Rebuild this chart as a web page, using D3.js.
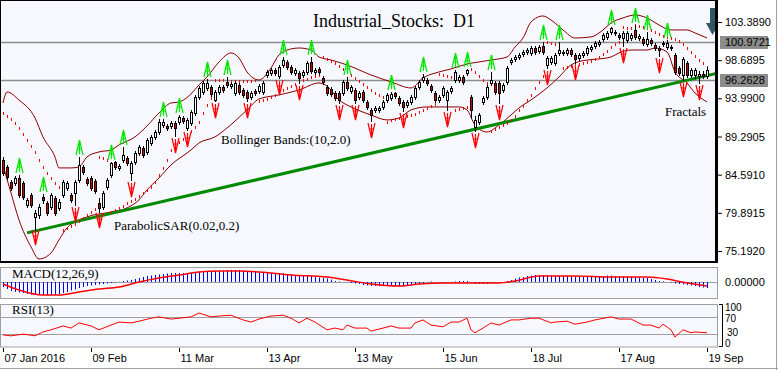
<!DOCTYPE html>
<html>
<head>
<meta charset="utf-8">
<script src="https://cdn.jsdelivr.net/npm/d3@7"></script>
<style>
body{margin:0;background:#fff}
svg{display:block}
text{font-family:"Liberation Sans",Arial,sans-serif;font-size:11px;fill:#000}
.serif{font-family:"Liberation Serif","Times New Roman",serif}
</style>
</head>
<body>
<script>
// daily candles, [open, high, low, close]
var ohlc = [
[86.40,86.77,84.56,84.80],[85.54,85.79,84.06,84.31],[83.70,83.94,82.71,82.96],[83.57,84.43,83.33,84.19],
[84.19,84.56,81.85,82.10],[83.57,83.82,81.60,81.85],[80.86,81.73,80.62,81.48],[82.10,82.34,80.62,80.86],
[79.39,80.25,77.79,79.88],[79.63,80.99,79.26,80.62],[81.85,82.22,81.11,81.48],[81.11,81.36,79.63,79.88],
[80.62,82.34,80.37,82.10],[81.73,81.97,79.63,79.88],[80.50,81.60,80.25,81.23],[82.10,83.94,81.85,83.70],
[82.96,83.82,82.71,83.57],[82.10,82.34,81.23,81.48],[82.34,83.94,80.86,83.70],[83.94,86.77,83.70,85.79],
[85.54,85.79,84.68,84.93],[84.06,84.31,83.33,83.57],[84.19,84.43,82.71,82.96],[83.82,84.06,82.34,82.59],
[81.11,81.73,80.00,80.50],[80.62,82.59,80.37,82.34],[83.08,84.19,82.83,83.94],[84.56,86.16,84.31,86.03],
[86.16,86.28,85.30,85.54],[85.42,85.91,85.17,85.67],[86.40,88.00,86.16,87.02],[86.65,86.90,85.79,86.03],
[84.80,86.28,83.94,86.03],[86.16,87.51,85.91,87.27],[87.27,88.25,87.02,88.00],[87.88,88.13,86.77,87.02],
[87.39,89.11,87.14,88.87],[88.50,89.48,88.25,89.24],[89.24,90.10,88.99,89.85],[89.85,91.45,89.60,91.08],
[90.71,91.45,90.47,91.08],[90.59,90.84,90.10,90.34],[90.59,91.20,90.34,90.96],[90.96,91.20,89.36,90.34],
[91.08,91.94,90.84,91.70],[91.57,91.82,90.96,91.20],[90.34,91.57,90.10,91.33],[90.96,92.56,90.71,92.31],
[92.19,94.41,91.94,94.16],[94.16,95.51,93.91,95.27],[94.77,96.13,94.53,95.88],[95.27,96.37,95.02,95.88],
[95.39,95.64,94.28,94.53],[93.79,95.02,93.67,94.77],[94.77,95.64,94.53,95.39],[95.39,95.64,94.77,95.02],
[96.01,96.62,95.39,95.64],[95.51,96.01,95.27,95.76],[94.65,96.13,94.41,95.88],[95.64,95.88,94.53,94.77],
[95.02,95.27,94.16,94.41],[94.77,95.02,93.67,94.04],[94.16,94.90,93.91,94.65],[94.90,95.14,94.41,94.65],
[94.90,95.76,94.65,95.51],[94.77,96.13,94.53,95.88],[96.87,97.48,96.62,97.24],[97.11,97.73,96.87,97.48],
[97.48,97.73,96.87,97.11],[96.74,98.10,96.50,97.85],[98.10,99.08,97.85,98.71],[98.47,98.71,97.61,97.85],
[97.85,98.10,96.99,97.24],[97.11,97.73,96.87,97.48],[97.11,97.36,95.88,96.50],[96.87,97.48,96.62,97.24],
[97.24,98.59,96.99,98.34],[98.47,99.08,97.11,97.36],[97.24,97.73,96.99,97.48],[97.61,97.85,96.99,97.24],
[96.50,96.74,95.76,96.01],[95.39,95.64,94.41,94.65],[95.14,95.39,94.28,94.53],[94.65,94.90,93.79,94.04],
[94.65,94.90,93.42,93.79],[94.65,96.25,94.41,96.01],[96.01,96.62,95.02,95.27],[94.90,95.64,94.65,95.39],
[95.02,95.27,93.42,93.79],[94.16,94.90,93.91,94.65],[94.77,95.02,93.54,93.79],[93.54,93.79,92.68,92.93],
[92.56,92.81,91.20,91.94],[92.56,93.05,92.31,92.81],[92.56,93.05,92.31,92.81],[92.93,93.79,92.68,93.54],
[93.79,94.65,93.54,94.41],[94.04,94.77,93.79,94.53],[94.65,94.77,94.04,94.28],[94.04,94.28,93.17,93.42],
[93.54,93.79,92.44,92.93],[93.17,93.79,92.93,93.54],[93.54,94.41,93.30,94.16],[94.16,95.51,93.91,95.27],
[95.39,96.25,95.14,96.01],[96.25,96.99,96.01,96.62],[96.25,96.50,95.64,95.88],[95.51,95.76,94.77,95.02],
[94.65,94.90,93.54,93.79],[93.79,94.41,93.54,94.16],[94.41,95.51,94.16,95.27],[93.79,95.02,92.56,94.77],
[94.90,95.51,94.65,95.27],[96.25,97.48,96.01,97.24],[96.25,96.87,96.01,96.62],[96.62,96.87,95.76,96.01],
[97.11,97.61,96.87,97.48],[94.16,94.41,91.57,92.56],[90.47,91.82,89.97,91.33],[91.08,92.19,90.84,91.94],
[93.54,94.28,93.30,94.04],[94.16,95.64,93.91,95.39],[95.88,97.24,95.64,96.25],[95.88,96.13,94.53,94.77],
[95.88,96.13,93.42,94.65],[95.02,95.88,94.77,95.64],[96.01,97.98,95.76,97.73],[98.47,98.96,98.22,98.71],
[98.84,99.33,98.59,99.08],[99.08,99.58,98.84,99.33],[99.45,99.94,99.21,99.70],[99.70,100.19,99.45,99.94],
[99.58,100.44,99.33,100.19],[100.19,100.44,99.45,99.70],[99.82,100.56,99.58,100.31],[100.44,100.93,99.45,99.70],
[98.10,99.21,97.73,98.96],[98.47,99.21,98.22,98.96],[98.34,99.58,98.10,99.33],[99.58,100.93,99.33,99.94],
[99.70,99.94,99.33,99.58],[99.58,100.19,99.33,99.94],[99.94,100.19,99.21,99.45],[99.33,99.58,98.34,98.84],
[98.96,99.58,98.71,99.33],[99.33,99.82,99.08,99.58],[99.58,100.44,99.33,100.19],[100.07,100.56,99.82,100.31],
[100.44,101.05,100.19,100.81],[100.68,101.18,100.44,100.93],[101.30,102.04,101.05,101.79],[101.55,102.28,101.30,102.04],
[102.16,102.78,101.91,102.65],[102.16,102.41,101.79,102.04],[101.79,102.04,101.30,101.55],[101.42,102.28,100.44,102.04],
[101.18,102.28,100.93,102.04],[101.42,102.04,101.18,101.79],[102.41,103.02,101.30,101.55],[101.42,101.91,101.18,101.67],
[101.30,101.55,100.56,100.81],[100.68,102.16,100.44,101.30],[101.18,101.42,100.56,100.81],[100.56,100.81,99.94,100.19],
[100.19,100.44,99.21,99.94],[100.68,101.05,100.44,100.81],[100.31,101.18,100.07,100.81],[100.31,100.56,99.94,100.19],
[99.33,99.58,96.99,97.24],[97.73,97.98,96.87,97.11],[96.87,99.08,96.25,98.84],[98.34,98.59,96.62,96.87],
[96.87,97.73,96.62,97.48],[96.87,97.73,96.50,97.48],[96.74,97.36,95.88,96.99],[96.99,97.36,96.50,96.74],
[96.74,97.85,96.50,97.48]
];

var dateTicks = [[0,"07 Jan 2016"],[22,"09 Feb"],[44,"11 Mar"],[66,"13 Apr"],[88,"13 May"],
                 [110,"15 Jun"],[132,"18 Jul"],[154,"17 Aug"],[176,"19 Sep"]];
var priceTicks = [103.3890, 98.6895, 93.9900, 89.2905, 84.5910, 79.8915, 75.1920];
var levels = [100.9721, 96.2628];

// parabolic SAR, one value per bar
var sar = [
92.19,91.82,91.45,90.96,90.34,89.60,88.87,88.13,87.39,86.40,85.54,84.80,84.19,83.57,83.08,
77.79,78.03,78.28,78.53,78.90,79.26,79.63,80.00,80.37,
86.77,86.65,86.40,
80.00,80.25,80.50,80.74,81.11,81.36,81.60,81.97,82.34,82.71,83.08,83.70,84.56,85.42,86.40,87.63,88.25,88.62,88.99,89.36,89.97,90.47,91.08,92.19,93.17,94.04,
96.25,96.25,96.25,96.25,96.13,96.13,96.13,96.13,96.13,96.13,96.25,
93.67,93.79,93.91,94.16,94.41,94.65,95.02,95.27,95.51,95.76,96.01,96.25,96.37,96.62,96.74,96.87,
99.08,98.84,98.59,98.34,97.98,97.61,97.24,96.87,96.50,96.13,95.76,95.39,95.02,94.65,94.41,94.16,
91.08,91.33,91.45,91.57,91.70,91.82,91.94,92.07,92.31,92.56,92.81,93.05,93.30,
96.99,96.87,96.74,96.62,
92.56,92.68,92.81,92.93,
97.61,97.24,96.74,96.25,95.88,
89.97,90.22,90.47,90.71,90.96,91.33,91.82,92.56,93.05,93.79,94.41,95.27,96.01,96.74,
100.93,100.81,100.68,100.68,
97.73,97.85,97.98,98.10,98.22,98.34,98.47,98.59,98.84,99.08,99.45,99.82,100.31,100.68,100.93,
102.78,102.65,102.65,103.02,102.90,102.78,102.65,102.41,102.16,101.91,101.67,101.55,101.42,101.30,101.05,100.68,
100.19,99.70,99.21,98.71,98.34,97.85
];

// Bollinger Bands (10, 2.0), read at [bar, price]
var upperBand = [[0,93.42],[1,94.77],[4,93.79],[8,91.57],[10,89.24],[13,86.77],[14,85.42],[17,85.42],[19,85.54],
[21,86.77],[24,87.39],[27,87.63],[29,88.25],[33,89.24],[36,90.59],[39,92.19],[42,93.42],[44,93.54],[47,94.53],
[49,95.64],[51,96.62],[54,98.47],[57,99.58],[59,98.96],[61,97.24],[64,96.25],[67,97.73],[69,99.33],[72,100.07],
[74,100.19],[77,99.94],[79,99.08],[82,98.71],[86,98.10],[92,96.87],[97,96.01],[102,95.27],[105,96.50],[109,97.24],
[112,97.61],[116,98.22],[119,98.47],[122,98.71],[126,99.08],[128,100.31],[130,101.42],[132,103.39],[135,104.13],
[137,103.64],[140,102.41],[143,101.42],[147,101.55],[150,102.41],[152,103.27],[155,103.89],[158,104.25],[161,103.89],
[164,103.02],[167,102.41],[171,102.41],[173,102.04],[176,101.42]];
var lowerBand = [[0,85.79],[2,82.34],[4,79.02],[7,75.70],[9,74.21],[12,74.95],[14,76.56],[16,78.03],[21,79.39],
[27,80.00],[31,80.50],[34,81.48],[36,82.71],[39,84.19],[42,85.79],[47,87.63],[49,88.50],[53,89.24],[56,90.34],
[61,92.56],[64,93.91],[69,94.41],[74,95.02],[79,95.88],[81,95.51],[84,93.79],[87,92.93],[92,91.94],[96,91.33],
[99,91.57],[102,92.56],[106,92.93],[111,92.93],[114,92.93],[116,92.56],[118,90.71],[121,89.85],[124,90.71],
[127,91.94],[129,92.81],[132,93.79],[136,95.27],[139,96.62],[142,98.10],[146,98.71],[149,98.84],[152,99.08],
[154,99.58],[157,99.94],[161,99.94],[163,100.19],[166,99.70],[168,97.24],[171,95.88],[173,94.65],[176,93.54]];

// fractals: [bar, marker anchor price]
var upFractals = [[4,84.80],[10,82.46],[19,87.02],[27,86.40],[30,88.25],[40,91.70],[44,92.19],[51,96.62],
[56,96.87],[70,99.33],[77,99.33],[86,96.87],[97,95.02],[105,97.24],[113,97.73],[116,97.85],[122,97.48],
[135,101.18],[139,101.18],[152,103.02],[158,103.27],[161,102.41],[166,101.42]];
var downFractals = [[8,77.79],[18,80.62],[24,79.88],[32,83.70],[43,89.11],[46,89.85],[53,93.42],[61,93.42],
[69,96.25],[74,95.64],[84,93.17],[88,93.17],[92,90.96],[100,92.19],[111,92.31],[118,89.73],[124,93.17],
[136,97.48],[143,98.10],[155,100.19],[164,98.96],[170,96.01],[174,95.64]];

var trendLine = [[6,77.42],[178.75,97.11]];

// MACD(12,26,9): histogram per bar, signal read at [bar, value]
var macdHist = [
-0.5,-0.7,-0.9,-1.0,-1.05,-1.1,-1.2,-1.25,-1.3,-1.3,-1.3,-1.3,-1.3,-1.25,-1.2,-1.1,-1.0,-0.85,-0.75,-0.6,
-0.5,-0.4,-0.35,-0.3,-0.25,-0.2,-0.15,-0.1,-0.05,0.02,0.1,0.15,0.2,0.3,0.4,0.5,0.6,0.65,0.7,0.75,
0.8,0.85,0.9,0.9,0.9,0.9,0.9,0.95,1.0,1.0,1.0,1.05,1.05,1.1,1.1,1.1,1.15,1.2,1.2,1.2,
1.15,1.1,1.1,1.0,0.9,0.9,0.9,0.9,0.9,0.9,0.9,0.8,0.75,0.7,0.7,0.65,0.6,0.6,0.5,0.45,
0.4,0.35,0.25,0.1,0.05,0.0,0.0,-0.1,-0.15,-0.2,-0.3,-0.35,-0.4,-0.4,-0.4,-0.4,-0.4,-0.4,-0.4,-0.45,
-0.45,-0.4,-0.3,-0.25,-0.2,-0.1,0.0,0.05,0.0,0.0,-0.05,0.0,0.0,0.05,0.1,0.1,0.1,0.0,-0.15,-0.2,
-0.2,-0.15,-0.1,-0.05,0.0,0.0,0.1,0.2,0.35,0.45,0.5,0.6,0.65,0.7,0.7,0.7,0.7,0.65,0.6,0.6,
0.6,0.6,0.6,0.55,0.55,0.5,0.5,0.5,0.55,0.6,0.6,0.65,0.65,0.6,0.6,0.55,0.55,0.5,0.5,0.45,
0.4,0.4,0.3,0.2,0.1,0.05,0.0,-0.05,-0.15,-0.2,-0.25,-0.3,-0.35,-0.4,-0.5,-0.55,-0.6
];
var macdSignal = [[0,-0.2],[4,-0.8],[10,-1.3],[14,-1.3],[19,-1.0],[24,-0.7],[29,-0.5],[34,0.0],[39,0.4],
[44,0.7],[49,1.0],[54,1.1],[59,1.1],[64,1.0],[72,0.7],[81,0.5],[86,0.2],[92,-0.2],[99,-0.4],[104,-0.2],
[110,-0.1],[124,-0.1],[128,0.1],[134,0.6],[143,0.6],[152,0.5],[161,0.5],[166,0.3],[171,-0.1],[176,-0.4]];

// RSI(13) read at [bar, value]
var rsi = [[0,28],[2,26],[5,30],[8,26],[10,35],[12,40],[15,49],[17,44],[19,56],[22,49],[24,40],[27,51],
[29,58],[32,56],[34,60],[37,67],[39,70],[42,65],[44,67],[47,70],[49,79],[52,70],[54,72],[57,74],[58,70],
[60,63],[62,58],[64,65],[67,72],[70,74],[72,67],[74,56],[76,67],[78,58],[81,40],[83,44],[85,40],[86,51],
[88,44],[91,44],[92,37],[95,44],[97,49],[99,44],[102,44],[103,56],[105,63],[107,51],[110,47],[112,58],
[114,58],[116,67],[117,40],[118,33],[120,44],[122,56],[124,51],[127,63],[129,63],[132,67],[134,67],
[137,56],[138,58],[141,60],[143,53],[146,58],[148,63],[152,70],[154,65],[157,65],[160,51],[162,51],
[164,44],[165,53],[167,40],[168,23],[170,40],[172,33],[173,35],[176,33]];

var W = 778, H = 370;
var svg = d3.select("body").append("svg").attr("width", W).attr("height", H);
svg.append("rect").attr("width", W).attr("height", H).attr("fill", "#fff");

var x = d3.scaleLinear().domain([0, 176]).range([3, 707]);
var yP = d3.scaleLinear().domain([75.192, 103.389]).range([251, 22]);
var yM = d3.scaleLinear().domain([-1.6, 1.6]).range([298, 266]);
var yR = d3.scaleLinear().domain([0, 100]).range([347, 304]);
function cx(i) { return Math.round(x(i)); }

var bg = "#f6f8fe";

// panels
svg.append("rect").attr("x", 1).attr("y", 1).attr("width", 715).attr("height", 261).attr("fill", bg);
svg.append("rect").attr("x", 0.5).attr("y", 267.5).attr("width", 717).attr("height", 31)
   .attr("fill", bg).attr("stroke", "#a0a0a0");
svg.append("rect").attr("x", 0.5).attr("y", 304.5).attr("width", 717).attr("height", 42.5)
   .attr("fill", bg).attr("stroke", "#a0a0a0");

var defs = svg.append("defs");
defs.append("clipPath").attr("id", "clipMain").append("rect")
    .attr("x", 1).attr("y", 1).attr("width", 714).attr("height", 260);

var main = svg.append("g").attr("clip-path", "url(#clipMain)");

// level lines
main.selectAll(".lvl").data(levels).enter().append("line")
    .attr("x1", 0).attr("x2", 716)
    .attr("y1", function(d) { return Math.round(yP(d)) + 0.5; })
    .attr("y2", function(d) { return Math.round(yP(d)) + 0.5; })
    .attr("stroke", "#8c8c8c").attr("stroke-width", 1.5);

// bollinger
var bandLine = d3.line().curve(d3.curveMonotoneX)
    .x(function(d) { return x(d[0]); }).y(function(d) { return yP(d[1]); });
[upperBand, lowerBand].forEach(function(b) {
  main.append("path").attr("d", bandLine(b)).attr("fill", "none")
      .attr("stroke", "#8b0000").attr("stroke-width", 1);
});

// trend line
main.append("path").attr("d", d3.line().x(function(d) { return x(d[0]); }).y(function(d) { return yP(d[1]); })(trendLine))
    .attr("fill", "none").attr("stroke", "#008a00").attr("stroke-width", 3);

// parabolic SAR
main.selectAll(".sar").data(sar).enter().append("rect")
    .attr("x", function(d, i) { return cx(i); })
    .attr("y", function(d) { return Math.round(yP(d)) - 1; })
    .attr("width", 1).attr("height", 3).attr("fill", "#ff0000");

// candles
main.selectAll(".wick").data(ohlc).enter().append("line")
    .attr("x1", function(d, i) { return cx(i) + 0.5; })
    .attr("x2", function(d, i) { return cx(i) + 0.5; })
    .attr("y1", function(d) { return Math.round(yP(d[1])); })
    .attr("y2", function(d) { return Math.round(yP(d[2])) + 1; })
    .attr("stroke", "#000").attr("stroke-width", 1);
main.selectAll(".body").data(ohlc).enter().append("rect")
    .attr("x", function(d, i) { return cx(i) - 0.5; })
    .attr("y", function(d) { return Math.round(yP(Math.max(d[0], d[3]))) + 0.5; })
    .attr("width", 2)
    .attr("height", function(d) { return Math.max(1, Math.round(Math.abs(yP(d[0]) - yP(d[3])))); })
    .attr("fill", function(d) { return d[3] >= d[0] ? "#ffffff" : "#cc0000"; })
    .attr("stroke", "#000").attr("stroke-width", 1);

// fractals (A-shaped up, V-shaped down)
var upPath = "M0,-15L-3.5,0M0,-15L3.5,0M-2,-6L2,-6M0,-15L0,-1";
var dnPath = "M0,15L-3.5,0M0,15L3.5,0M-2,6L2,6M0,15L0,1";
main.selectAll(".fu").data(upFractals).enter().append("path")
    .attr("transform", function(d) { return "translate(" + (cx(d[0]) + 0.5) + "," + Math.round(yP(d[1])) + ")"; })
    .attr("d", upPath).attr("fill", "none").attr("stroke", "#00e600").attr("stroke-width", 1.2);
main.selectAll(".fd").data(downFractals).enter().append("path")
    .attr("transform", function(d) { return "translate(" + (cx(d[0]) + 0.5) + "," + Math.round(yP(d[1])) + ")"; })
    .attr("d", dnPath).attr("fill", "none").attr("stroke", "#ff0000").attr("stroke-width", 1.2);

// down arrow signal
main.append("path").attr("d", "M710,8H715V23H719L712.5,35L706,23H710Z").attr("fill", "#2f5566");

// labels in main panel
svg.append("text").attr("class", "serif").attr("x", 313).attr("y", 27)
   .style("font-size", "18px").style("white-space", "pre").text("Industrial_Stocks:  D1");
svg.append("text").attr("class", "serif").attr("x", 221).attr("y", 144)
   .style("font-size", "13px").text("Bollinger Bands:(10,2.0)");
svg.append("text").attr("class", "serif").attr("x", 114).attr("y", 230)
   .style("font-size", "13px").text("ParabolicSAR(0.02,0.2)");
svg.append("text").attr("class", "serif").attr("x", 665).attr("y", 116)
   .style("font-size", "13px").text("Fractals");

// main frame
svg.append("rect").attr("x", 0).attr("y", 0).attr("width", 718).attr("height", 1).attr("fill", "#000");
svg.append("rect").attr("x", 0).attr("y", 0).attr("width", 1).attr("height", 263).attr("fill", "#000");
svg.append("rect").attr("x", 715).attr("y", 0).attr("width", 3).attr("height", 263).attr("fill", "#000");
svg.append("rect").attr("x", 0).attr("y", 261).attr("width", 718).attr("height", 2).attr("fill", "#000");

// price axis
var ax = svg.append("g").attr("transform", "translate(718,0)")
    .call(d3.axisRight(yP).tickValues(priceTicks).tickSize(4).tickPadding(3).tickFormat(d3.format(".4f")));
ax.select(".domain").remove();
ax.selectAll("text").style("font-size", "11px").attr("font-family", null);

var lv = svg.selectAll(".lvlLab").data(levels).enter().append("g")
    .attr("transform", function(d) { return "translate(0," + Math.round(yP(d)) + ")"; });
lv.append("rect").attr("x", 720).attr("y", -6).attr("width", 48).attr("height", 13).attr("fill", "#8c8c8c");
lv.append("text").attr("x", 725).attr("y", 4).text(function(d) { return d3.format(".4f")(d); });

// MACD panel
svg.append("line").attr("x1", 1).attr("x2", 717)
   .attr("y1", Math.round(yM(0)) + 0.5).attr("y2", Math.round(yM(0)) + 0.5).attr("stroke", "#a0a0a0");
svg.selectAll(".hist").data(macdHist).enter().append("line")
   .attr("x1", function(d, i) { return cx(i) + 0.5; })
   .attr("x2", function(d, i) { return cx(i) + 0.5; })
   .attr("y1", yM(0))
   .attr("y2", function(d) { return yM(d); })
   .attr("stroke", "#0000ff").attr("stroke-width", 1);
svg.append("path").attr("d", d3.line().curve(d3.curveMonotoneX)
      .x(function(d) { return x(d[0]); }).y(function(d) { return yM(d[1]); })(macdSignal))
   .attr("fill", "none").attr("stroke", "#ff0000").attr("stroke-width", 1.5);
svg.append("text").attr("class", "serif").attr("x", 12).attr("y", 278)
   .style("font-size", "13px").text("MACD(12,26,9)");
svg.append("text").attr("x", 725).attr("y", Math.round(yM(0)) + 4).text("0.00000");

// RSI panel
[70, 30].forEach(function(v) {
  svg.append("line").attr("x1", 1).attr("x2", 717)
     .attr("y1", Math.round(yR(v)) + 0.5).attr("y2", Math.round(yR(v)) + 0.5).attr("stroke", "#a0a0a0");
});
svg.append("path").attr("d", d3.line()
      .x(function(d) { return x(d[0]); }).y(function(d) { return yR(d[1]); })(rsi))
   .attr("fill", "none").attr("stroke", "#ff0000").attr("stroke-width", 1);
svg.append("text").attr("class", "serif").attr("x", 12).attr("y", 314)
   .style("font-size", "13px").text("RSI(13)");
svg.append("path").attr("d", "M719,304.5H722.5V346.5H719").attr("fill", "none").attr("stroke", "#000");
svg.append("text").attr("x", 725).attr("y", yR(100) + 7).style("font-size", "10px").text("100");
svg.append("text").attr("x", 725).attr("y", yR(70) + 5).style("font-size", "10px").text("70");
svg.append("text").attr("x", 727).attr("y", yR(30) + 2).style("font-size", "10px").text("30");
svg.append("text").attr("x", 725).attr("y", yR(0)).style("font-size", "10px").text("0");

// date axis
var dx = svg.append("g").attr("transform", "translate(0,348)")
    .call(d3.axisBottom(x).tickValues(dateTicks.map(function(d) { return d[0]; }))
      .tickSize(4).tickFormat(function(v) {
        return dateTicks.filter(function(d) { return d[0] === v; })[0][1];
      }));
dx.select(".domain").remove();
dx.selectAll("text").attr("text-anchor", "start").attr("x", 1).attr("y", 14)
  .attr("dy", null).style("font-size", "11px").attr("font-family", null);

// window frame
svg.append("line").attr("x1", 776.5).attr("x2", 776.5).attr("y1", 0).attr("y2", 370).attr("stroke", "#a0a0a0");
svg.append("line").attr("x1", 0).attr("x2", 778).attr("y1", 368.5).attr("y2", 368.5).attr("stroke", "#a0a0a0");
</script>
</body>
</html>
